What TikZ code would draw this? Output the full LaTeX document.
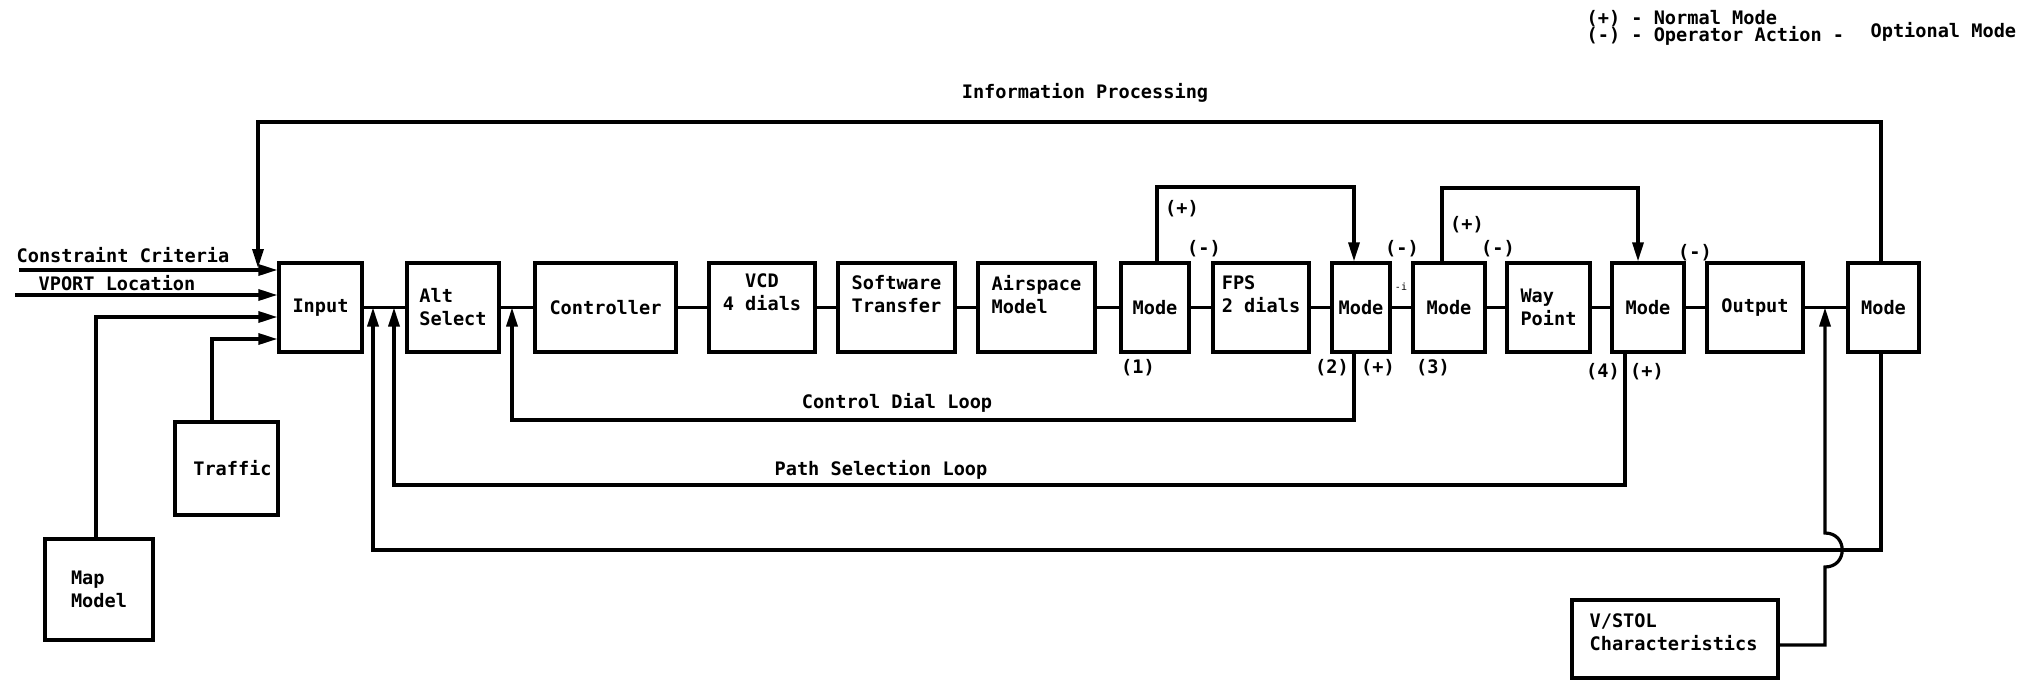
\documentclass[tikz,border=0pt]{standalone}
\usepackage{fontspec}
\setmonofont{DejaVu Sans Mono}
\usetikzlibrary{arrows.meta,calc}
\begin{document}
\begin{tikzpicture}[x=0.5pt,y=-0.5pt,
  font=\ttfamily\bfseries\fontsize{9.3}{11.5}\selectfont,
  line width=1.6pt,
  box/.style={draw, line width=1.6pt, inner sep=0pt, align=center, minimum height=44.5pt},
  arr/.style={-{Triangle[length=9.5pt,width=5.5pt]}},
  lbl/.style={inner sep=0pt}]
\useasboundingbox (0,0) rectangle (2036,680);

% main chain
\node[box, minimum width=41.5pt] (input) at (320.5,307.5) {Input};
\node[box, align=left, minimum width=46pt] (alt) at (453,307.5) {Alt\\Select};
\node[box, minimum width=70.5pt] (ctrl) at (605.5,307.5) {Controller};
\node[box, minimum width=53pt] (vcd) at (762,307.5) {VCD\\4 dials\\[4pt]\mbox{}};
\node[box, minimum width=58.5pt] (soft) at (896.5,307.5) {Software\\Transfer\\[2pt]\mbox{}};
\node[box, align=left, minimum width=58.5pt] (air) at (1036.5,307.5) {Airspace\\Model\\[2pt]\mbox{}};
\node[box, minimum width=34pt] (mode1) at (1155,307.5) {Mode};
\node[box, align=left, minimum width=48pt] (fps) at (1261,307.5) {FPS\\2 dials\\[2pt]\mbox{}};
\node[box, minimum width=29pt] (mode2) at (1361,307.5) {Mode};
\node[box, minimum width=36pt] (mode3) at (1449,307.5) {Mode};
\node[box, align=left, minimum width=41.5pt] (way) at (1548.5,307.5) {Way\\Point};
\node[box, minimum width=36pt] (mode4) at (1648,307.5) {Mode};
\node[box, minimum width=48pt] (out) at (1755,307.5) {Output};
\node[box, minimum width=35.5pt] (mode5) at (1883.5,307.5) {Mode};

% side boxes
\node[box, minimum width=51.5pt, minimum height=46.5pt] (traffic) at (226.5,468.5) {\hspace*{6pt}Traffic};
\node[box, align=left, minimum width=54pt, minimum height=50.5pt] (map) at (99,589.5) {Map\\Model};
\node[box, minimum width=103pt, minimum height=39pt] (vstol) at (1675,639) {};
\node[lbl, anchor=north west, align=left] (vstoltxt) at (1588,612) {V/STOL\\Characteristics};

% chain connectors
\draw (input) -- (alt);
\draw (alt) -- (ctrl);
\draw (ctrl) -- (vcd);
\draw (vcd) -- (soft);
\draw (soft) -- (air);
\draw (air) -- (mode1);
\draw (mode1) -- (fps);
\draw (fps) -- (mode2);
\draw (mode2) -- (mode3);
\draw (mode3) -- (way);
\draw (way) -- (mode4);
\draw (mode4) -- (out);
\draw (out) -- (mode5);

% inputs on the left
\coordinate (cstart) at (19,270);
\coordinate (vstart) at (15,295);
\coordinate (ipin) at (258,268);
\draw[arr] (cstart) -- (cstart -| input.west);
\draw[arr] (vstart) -- (vstart -| input.west);
\draw[arr] (map.north -| 96,0) |- (input.west |- 0,317);
\draw[arr] (traffic.north -| 212,0) |- (input.west |- 0,339);

% information processing loop
\draw[arr] (mode5.north -| 1881,0) -- (1881,122) -- (258,122) -- (ipin);

% mode bypass loops
\draw[arr] (mode1.north -| 1157,0) -- (1157,187) -| (mode2.north -| 1354,0);
\draw[arr] (mode3.north -| 1442,0) -- (1442,188) -| (mode4.north -| 1638,0);

% feedback loops
\draw[arr] (mode2.south -| 1354,0) -- (1354,420) -| (alt.east -| 512,0);
\draw[arr] (mode4.south -| 1625,0) -- (1625,485) -| (input.east -| 394,0);
\draw[arr] (mode5.south -| 1881,0) -- (1881,550) -| (input.east -| 373,0);

% V/STOL input with hop
\draw[arr] (vstol.east |- 0,645) -- (1825,645) -- (1825,567)
  .. controls (1848,567) and (1848,533) .. (1825,533) -- (out.east -| 1825,0);

% labels
\node[lbl] (lip) at (1085,93) {Information Processing};
\node[lbl] (lcd) at (897,403) {Control Dial Loop};
\node[lbl] (lps) at (881,470) {Path Selection Loop};
\node[lbl] (lcc) at (123,255) {Constraint Criteria};
\node[lbl] (lvp) at (117,283) {VPORT Location};

\node[lbl] (p1) at (1182,209) {(+)};
\node[lbl] (m1) at (1204,249) {(-)};
\node[lbl] (n1) at (1138,368) {(1)};
\node[lbl] (n2) at (1332,368) {(2)};
\node[lbl] (p2) at (1378,368) {(+)};
\node[lbl] (m2) at (1402,249) {(-)};
\node[lbl, font=\ttfamily\fontsize{5}{6}\selectfont] (mi) at (1401,287) {-i};
\node[lbl] (n3) at (1433,368) {(3)};
\node[lbl] (p3) at (1467,225) {(+)};
\node[lbl] (m3) at (1498,249) {(-)};
\node[lbl] (n4) at (1603,372) {(4)};
\node[lbl] (p4) at (1647,372) {(+)};
\node[lbl] (m4) at (1695,253) {(-)};

% legend
\node[lbl, anchor=west] (leg1) at (1585,19) {(+) - Normal Mode};
\node[lbl, anchor=west] (leg2) at (1585,36) {(-) - Operator Action -};
\node[lbl, anchor=west] (leg3) at (1869,32) {Optional Mode};
\end{tikzpicture}
\end{document}
